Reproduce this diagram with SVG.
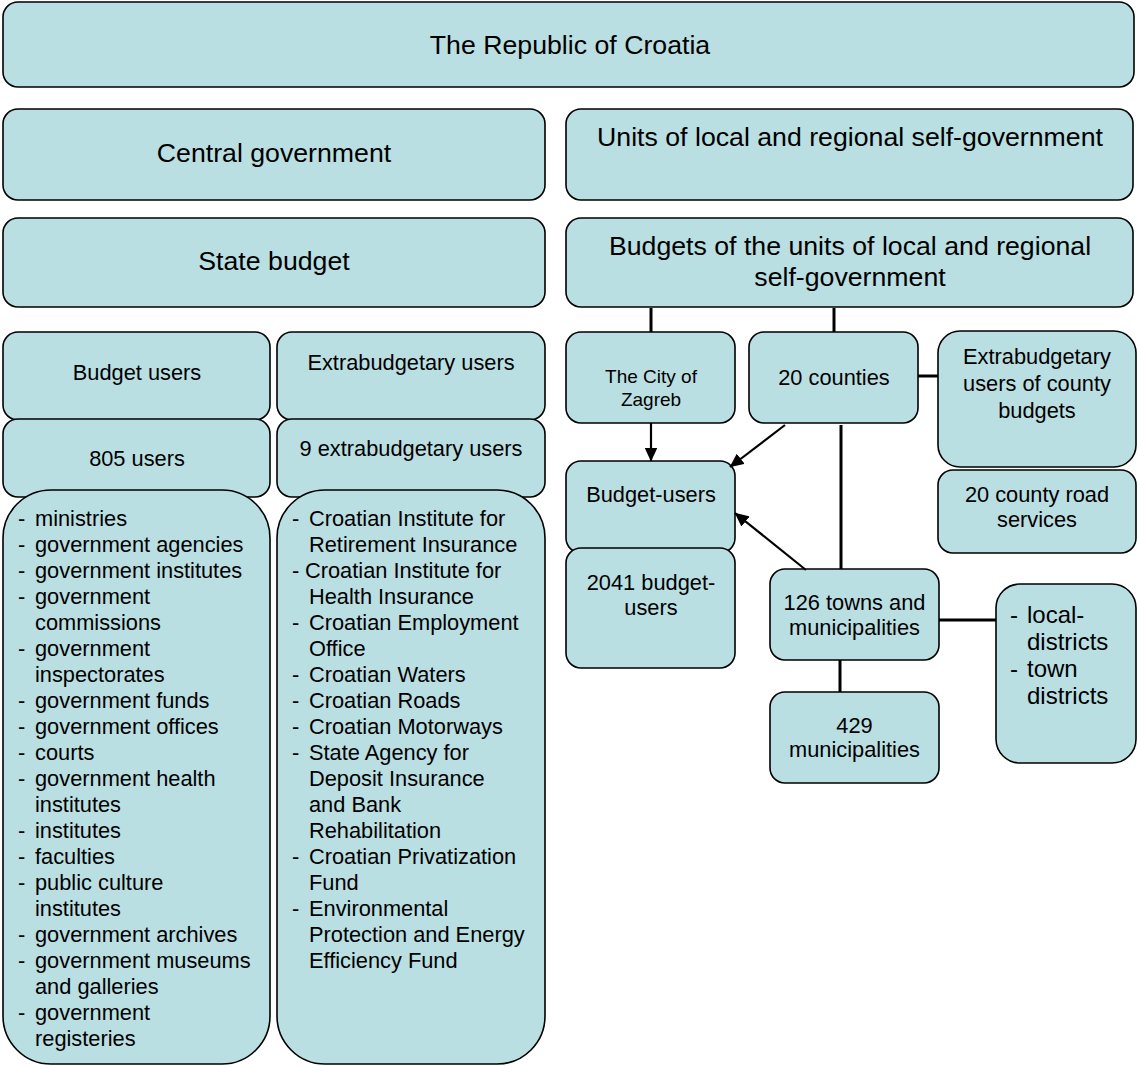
<svg xmlns="http://www.w3.org/2000/svg" width="1137" height="1066" viewBox="0 0 1137 1066">
<style>
.b{fill:#B9DFE2;stroke:#000;stroke-width:1.6}
text{font-family:"Liberation Sans",Arial,sans-serif;fill:#000}
.h{font-size:26.7px;text-anchor:middle}
.m{font-size:21.8px;text-anchor:middle}
.s{font-size:19px;text-anchor:middle}
.l{font-size:21.8px}
.c{stroke:#000;stroke-width:3;fill:none}
.a{stroke:#000;stroke-width:2.2;fill:none}
</style>
<defs>
<marker id="ah" markerWidth="14" markerHeight="13" refX="13.5" refY="6.5" orient="auto" markerUnits="userSpaceOnUse">
<path d="M0,0 L14,6.5 L0,13 Z" fill="#000"/>
</marker>
</defs>
<rect width="1137" height="1066" fill="#fff"/>
<g id="republic"><rect class="b" x="3" y="2" width="1131" height="85" rx="15"/><text class="h" x="570" y="54">The Republic of Croatia</text></g>
<g id="central"><rect class="b" x="3" y="109" width="542" height="91" rx="15"/><text class="h" x="274" y="162">Central government</text></g>
<g id="units"><rect class="b" x="566" y="109" width="567" height="91" rx="15"/><text class="h" x="850" y="146">Units of local and regional self-government</text></g>
<g id="state-budget"><rect class="b" x="3" y="218" width="542" height="89" rx="15"/><text class="h" x="274" y="270">State budget</text></g>
<g id="local-budgets"><rect class="b" x="566" y="218" width="567" height="89" rx="15"/><text class="h" x="850" y="255">Budgets of the units of local and regional</text><text class="h" x="850" y="286">self-government</text></g>
<g id="budget-users"><rect class="b" x="3" y="332" width="267" height="88" rx="15"/><text class="m" x="137" y="380">Budget users</text></g>
<g id="users-805"><rect class="b" x="3" y="419" width="267" height="78" rx="15"/><text class="m" x="137" y="466">805 users</text></g>
<g id="budget-list"><rect class="b" x="3" y="490" width="267" height="574" rx="48"/>
<text class="l"><tspan x="18" y="526">-</tspan><tspan x="35" y="526">ministries</tspan><tspan x="18" y="552">-</tspan><tspan x="35" y="552">government agencies</tspan><tspan x="18" y="578">-</tspan><tspan x="35" y="578">government institutes</tspan><tspan x="18" y="604">-</tspan><tspan x="35" y="604">government</tspan><tspan x="35" y="630">commissions</tspan><tspan x="18" y="656">-</tspan><tspan x="35" y="656">government</tspan><tspan x="35" y="682">inspectorates</tspan><tspan x="18" y="708">-</tspan><tspan x="35" y="708">government funds</tspan><tspan x="18" y="734">-</tspan><tspan x="35" y="734">government offices</tspan><tspan x="18" y="760">-</tspan><tspan x="35" y="760">courts</tspan><tspan x="18" y="786">-</tspan><tspan x="35" y="786">government health</tspan><tspan x="35" y="812">institutes</tspan><tspan x="18" y="838">-</tspan><tspan x="35" y="838">institutes</tspan><tspan x="18" y="864">-</tspan><tspan x="35" y="864">faculties</tspan><tspan x="18" y="890">-</tspan><tspan x="35" y="890">public culture</tspan><tspan x="35" y="916">institutes</tspan><tspan x="18" y="942">-</tspan><tspan x="35" y="942">government archives</tspan><tspan x="18" y="968">-</tspan><tspan x="35" y="968">government museums</tspan><tspan x="35" y="994">and galleries</tspan><tspan x="18" y="1020">-</tspan><tspan x="35" y="1020">government</tspan><tspan x="35" y="1046">registeries</tspan></text></g>
<g id="extra-users"><rect class="b" x="277" y="332" width="268" height="88" rx="15"/><text class="m" x="411" y="370">Extrabudgetary users</text></g>
<g id="extra-9"><rect class="b" x="277" y="419" width="268" height="78" rx="15"/><text class="m" x="411" y="456">9 extrabudgetary users</text></g>
<g id="extra-list"><rect class="b" x="277" y="490" width="268" height="574" rx="48"/>
<text class="l"><tspan x="292" y="526">-</tspan><tspan x="309" y="526">Croatian Institute for</tspan><tspan x="309" y="552">Retirement Insurance</tspan><tspan x="292" y="578">-</tspan><tspan x="305" y="578">Croatian Institute for</tspan><tspan x="309" y="604">Health Insurance</tspan><tspan x="292" y="630">-</tspan><tspan x="309" y="630">Croatian Employment</tspan><tspan x="309" y="656">Office</tspan><tspan x="292" y="682">-</tspan><tspan x="309" y="682">Croatian Waters</tspan><tspan x="292" y="708">-</tspan><tspan x="309" y="708">Croatian Roads</tspan><tspan x="292" y="734">-</tspan><tspan x="309" y="734">Croatian Motorways</tspan><tspan x="292" y="760">-</tspan><tspan x="309" y="760">State Agency for</tspan><tspan x="309" y="786">Deposit Insurance</tspan><tspan x="309" y="812">and Bank</tspan><tspan x="309" y="838">Rehabilitation</tspan><tspan x="292" y="864">-</tspan><tspan x="309" y="864">Croatian Privatization</tspan><tspan x="309" y="890">Fund</tspan><tspan x="292" y="916">-</tspan><tspan x="309" y="916">Environmental</tspan><tspan x="309" y="942">Protection and Energy</tspan><tspan x="309" y="968">Efficiency Fund</tspan></text></g>
<g id="zagreb"><rect class="b" x="566" y="332" width="169" height="91" rx="15"/><text class="s" x="651" y="383">The City of</text><text class="s" x="651" y="406">Zagreb</text></g>
<g id="counties"><rect class="b" x="749" y="332" width="169" height="91" rx="15"/><text class="m" x="834" y="385">20 counties</text></g>
<g id="county-extra"><rect class="b" x="938" y="331" width="198" height="136" rx="22"/><text class="m" x="1037" y="364">Extrabudgetary</text><text class="m" x="1037" y="391">users of county</text><text class="m" x="1037" y="418">budgets</text></g>
<g id="county-roads"><rect class="b" x="938" y="470" width="198" height="83" rx="15"/><text class="m" x="1037" y="502">20 county road</text><text class="m" x="1037" y="527">services</text></g>
<g id="local-budget-users"><rect class="b" x="566" y="461" width="169" height="92" rx="15"/><text class="m" x="651" y="502">Budget-users</text></g>
<g id="users-2041"><rect class="b" x="566" y="548" width="169" height="120" rx="15"/><text class="m" x="651" y="590">2041 budget-</text><text class="m" x="651" y="615">users</text></g>
<g id="towns"><rect class="b" x="770" y="569" width="169" height="91" rx="15"/><text class="m" x="854.5" y="610">126 towns and</text><text class="m" x="854.5" y="635">municipalities</text></g>
<g id="municipalities"><rect class="b" x="770" y="692" width="169" height="91" rx="15"/><text class="m" x="854.5" y="733">429</text><text class="m" x="854.5" y="757">municipalities</text></g>
<g id="districts"><rect class="b" x="996" y="584" width="140" height="179" rx="24"/>
<text style="font-size:24px"><tspan x="1010" y="623">-</tspan><tspan x="1027" y="623">local-</tspan><tspan x="1027" y="650">districts</tspan><tspan x="1010" y="677">-</tspan><tspan x="1027" y="677">town</tspan><tspan x="1027" y="704">districts</tspan></text></g>
<g id="connectors">
<line class="c" x1="651" y1="308" x2="651" y2="332"/>
<line class="c" x1="834" y1="308" x2="834" y2="332"/>
<line class="c" x1="918" y1="376" x2="938" y2="376"/>
<line class="c" x1="841" y1="425" x2="841" y2="569"/>
<line class="c" x1="939" y1="620" x2="996" y2="620"/>
<line class="c" x1="840" y1="660" x2="840" y2="692"/>
<line class="a" x1="651" y1="423" x2="651" y2="461" marker-end="url(#ah)"/>
<line class="a" x1="785" y1="425" x2="730" y2="467" marker-end="url(#ah)"/>
<line class="a" x1="806" y1="570" x2="735" y2="513" marker-end="url(#ah)"/>
</g>
</svg>
